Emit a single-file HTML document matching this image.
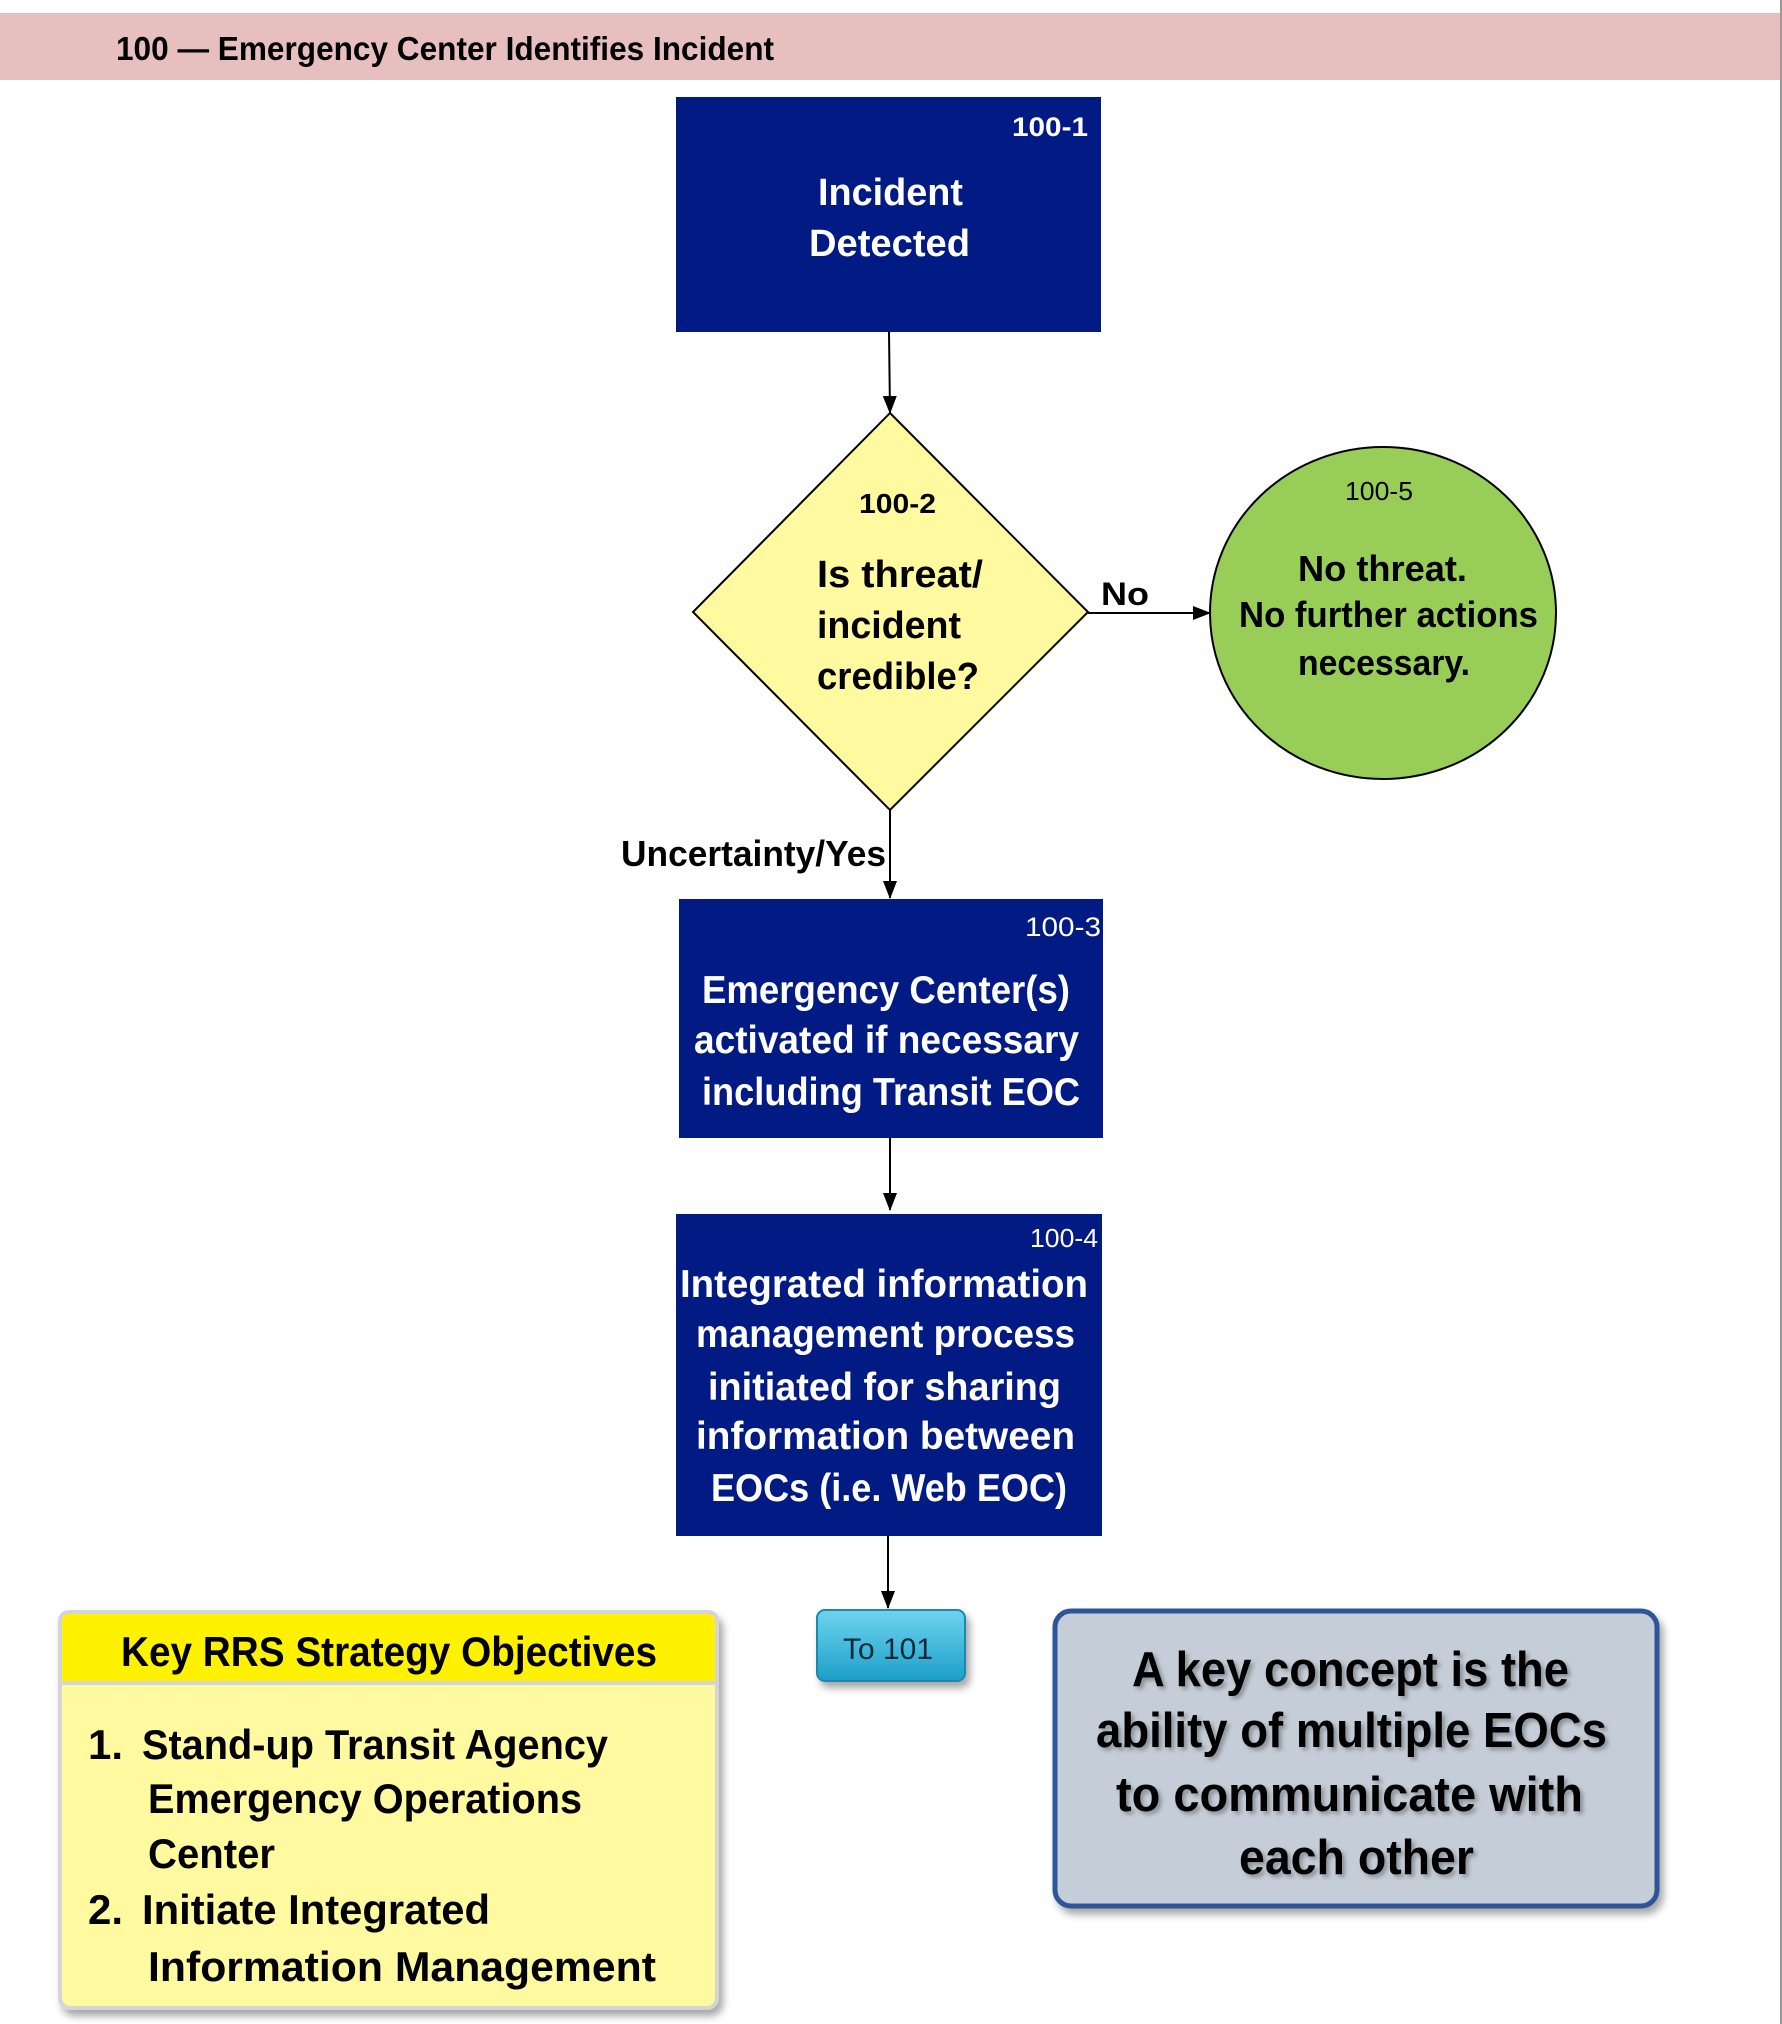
<!DOCTYPE html>
<html><head><meta charset="utf-8"><style>
html,body{margin:0;padding:0;background:#fff;}
svg{display:block;}
text{font-family:"Liberation Sans",sans-serif;font-weight:bold;}
</style></head><body>
<svg width="1782" height="2024" viewBox="0 0 1782 2024" xmlns="http://www.w3.org/2000/svg">
<defs>
<marker id="ah" markerWidth="18" markerHeight="14" refX="17" refY="7" orient="auto" markerUnits="userSpaceOnUse"><path d="M0,0 L18,7 L0,14 z" fill="#000"/></marker>
<linearGradient id="tg" x1="0" y1="0" x2="0" y2="1"><stop offset="0" stop-color="#6fd3ee"/><stop offset="1" stop-color="#1c9fc9"/></linearGradient>
<filter id="sh" x="-10%" y="-10%" width="130%" height="130%"><feDropShadow dx="4" dy="6" stdDeviation="4" flood-color="#000" flood-opacity="0.35"/></filter>
<filter id="ts"><feDropShadow dx="3" dy="3" stdDeviation="2" flood-color="#000" flood-opacity="0.3"/></filter>
</defs>
<rect x="0" y="13" width="1782" height="67" fill="#e8bfbf"/>
<line x1="1781" y1="0" x2="1781" y2="2024" stroke="#999" stroke-width="2"/>
<text x="116" y="60" font-size="33" textLength="658" lengthAdjust="spacingAndGlyphs">100 — Emergency Center Identifies Incident</text>

<rect x="676" y="97" width="425" height="235" fill="#021a84"/>
<text x="1012" y="136" font-size="27" fill="#fff" textLength="76" lengthAdjust="spacingAndGlyphs">100-1</text>
<text x="818" y="205" font-size="38" fill="#fff" textLength="145" lengthAdjust="spacingAndGlyphs">Incident</text>
<text x="809" y="256" font-size="38" fill="#fff" textLength="161" lengthAdjust="spacingAndGlyphs">Detected</text>
<line x1="889" y1="332" x2="890" y2="413" stroke="#000" stroke-width="2" marker-end="url(#ah)"/>

<polygon points="890,413 1088,612 890,810 693,612" fill="#fffa9f" stroke="#000" stroke-width="2"/>
<text x="859" y="513" font-size="28" textLength="77" lengthAdjust="spacingAndGlyphs">100-2</text>
<text x="817" y="587" font-size="38" textLength="166" lengthAdjust="spacingAndGlyphs">Is threat/</text>
<text x="817" y="638" font-size="38" textLength="144" lengthAdjust="spacingAndGlyphs">incident</text>
<text x="817" y="689" font-size="38" textLength="162" lengthAdjust="spacingAndGlyphs">credible?</text>
<line x1="1088" y1="613" x2="1210" y2="613" stroke="#000" stroke-width="2" marker-end="url(#ah)"/>
<text x="1101" y="605" font-size="32" textLength="48" lengthAdjust="spacingAndGlyphs">No</text>

<ellipse cx="1383" cy="613" rx="173" ry="166" fill="#98cd58" stroke="#000" stroke-width="2"/>
<text x="1345" y="500" font-size="26" style="font-weight:normal" textLength="68" lengthAdjust="spacingAndGlyphs">100-5</text>
<text x="1298" y="581" font-size="36" textLength="169" lengthAdjust="spacingAndGlyphs">No threat.</text>
<text x="1239" y="627" font-size="36" textLength="299" lengthAdjust="spacingAndGlyphs">No further actions</text>
<text x="1298" y="675" font-size="36" textLength="172" lengthAdjust="spacingAndGlyphs">necessary.</text>

<line x1="890" y1="810" x2="890" y2="898" stroke="#000" stroke-width="2" marker-end="url(#ah)"/>
<text x="621" y="866" font-size="36" textLength="265" lengthAdjust="spacingAndGlyphs">Uncertainty/Yes</text>

<rect x="679" y="899" width="424" height="239" fill="#021a84"/>
<text x="1025" y="936" font-size="27" fill="#fff" style="font-weight:normal" textLength="76" lengthAdjust="spacingAndGlyphs">100-3</text>
<text x="702" y="1003" font-size="39" fill="#fff" textLength="368" lengthAdjust="spacingAndGlyphs">Emergency Center(s)</text>
<text x="694" y="1053" font-size="39" fill="#fff" textLength="385" lengthAdjust="spacingAndGlyphs">activated if necessary</text>
<text x="702" y="1105" font-size="39" fill="#fff" textLength="378" lengthAdjust="spacingAndGlyphs">including Transit EOC</text>
<line x1="890" y1="1138" x2="890" y2="1210" stroke="#000" stroke-width="2" marker-end="url(#ah)"/>

<rect x="676" y="1214" width="426" height="322" fill="#021a84"/>
<text x="1030" y="1247" font-size="26" fill="#fff" style="font-weight:normal" textLength="68" lengthAdjust="spacingAndGlyphs">100-4</text>
<text x="680" y="1297" font-size="39" fill="#fff" textLength="408" lengthAdjust="spacingAndGlyphs">Integrated information</text>
<text x="696" y="1347" font-size="39" fill="#fff" textLength="379" lengthAdjust="spacingAndGlyphs">management process</text>
<text x="708" y="1400" font-size="39" fill="#fff" textLength="353" lengthAdjust="spacingAndGlyphs">initiated for sharing</text>
<text x="696" y="1449" font-size="39" fill="#fff" textLength="379" lengthAdjust="spacingAndGlyphs">information between</text>
<text x="711" y="1501" font-size="39" fill="#fff" textLength="356" lengthAdjust="spacingAndGlyphs">EOCs (i.e. Web EOC)</text>
<line x1="888" y1="1536" x2="888" y2="1608" stroke="#000" stroke-width="2" marker-end="url(#ah)"/>

<rect x="817" y="1610" width="148" height="71" rx="8" fill="url(#tg)" stroke="#1b88ae" stroke-width="2" filter="url(#sh)"/>
<text x="843" y="1659" font-size="30" style="font-weight:normal" fill="#0a2a3a" textLength="90" lengthAdjust="spacingAndGlyphs">To 101</text>

<rect x="60" y="1612" width="657" height="396" rx="10" fill="#fffa9f" stroke="#d5d5d5" stroke-width="4" filter="url(#sh)"/>
<path d="M70,1612 H707 Q717,1612 717,1622 V1683 H60 V1622 Q60,1612 70,1612 Z" fill="#fff200" stroke="#d5d5d5" stroke-width="4"/>
<text x="121" y="1666" font-size="42" textLength="536" lengthAdjust="spacingAndGlyphs">Key RRS Strategy Objectives</text>
<text x="88" y="1759" font-size="42">1.</text>
<text x="142" y="1759" font-size="42" textLength="466" lengthAdjust="spacingAndGlyphs">Stand-up Transit Agency</text>
<text x="148" y="1813" font-size="42" textLength="434" lengthAdjust="spacingAndGlyphs">Emergency Operations</text>
<text x="148" y="1868" font-size="42" textLength="127" lengthAdjust="spacingAndGlyphs">Center</text>
<text x="88" y="1924" font-size="42">2.</text>
<text x="142" y="1924" font-size="42" textLength="348" lengthAdjust="spacingAndGlyphs">Initiate Integrated</text>
<text x="148" y="1981" font-size="42" textLength="508" lengthAdjust="spacingAndGlyphs">Information  Management</text>

<rect x="1055" y="1611" width="602" height="295" rx="16" fill="#c5ced8" stroke="#2e5597" stroke-width="5" filter="url(#sh)"/>
<g filter="url(#ts)">
<text x="1132" y="1686" font-size="49" textLength="437" lengthAdjust="spacingAndGlyphs">A key concept is the</text>
<text x="1096" y="1747" font-size="49" textLength="511" lengthAdjust="spacingAndGlyphs">ability of multiple EOCs</text>
<text x="1116" y="1811" font-size="49" textLength="467" lengthAdjust="spacingAndGlyphs">to communicate with</text>
<text x="1239" y="1874" font-size="49" textLength="235" lengthAdjust="spacingAndGlyphs">each other</text>
</g>
</svg>
</body></html>
